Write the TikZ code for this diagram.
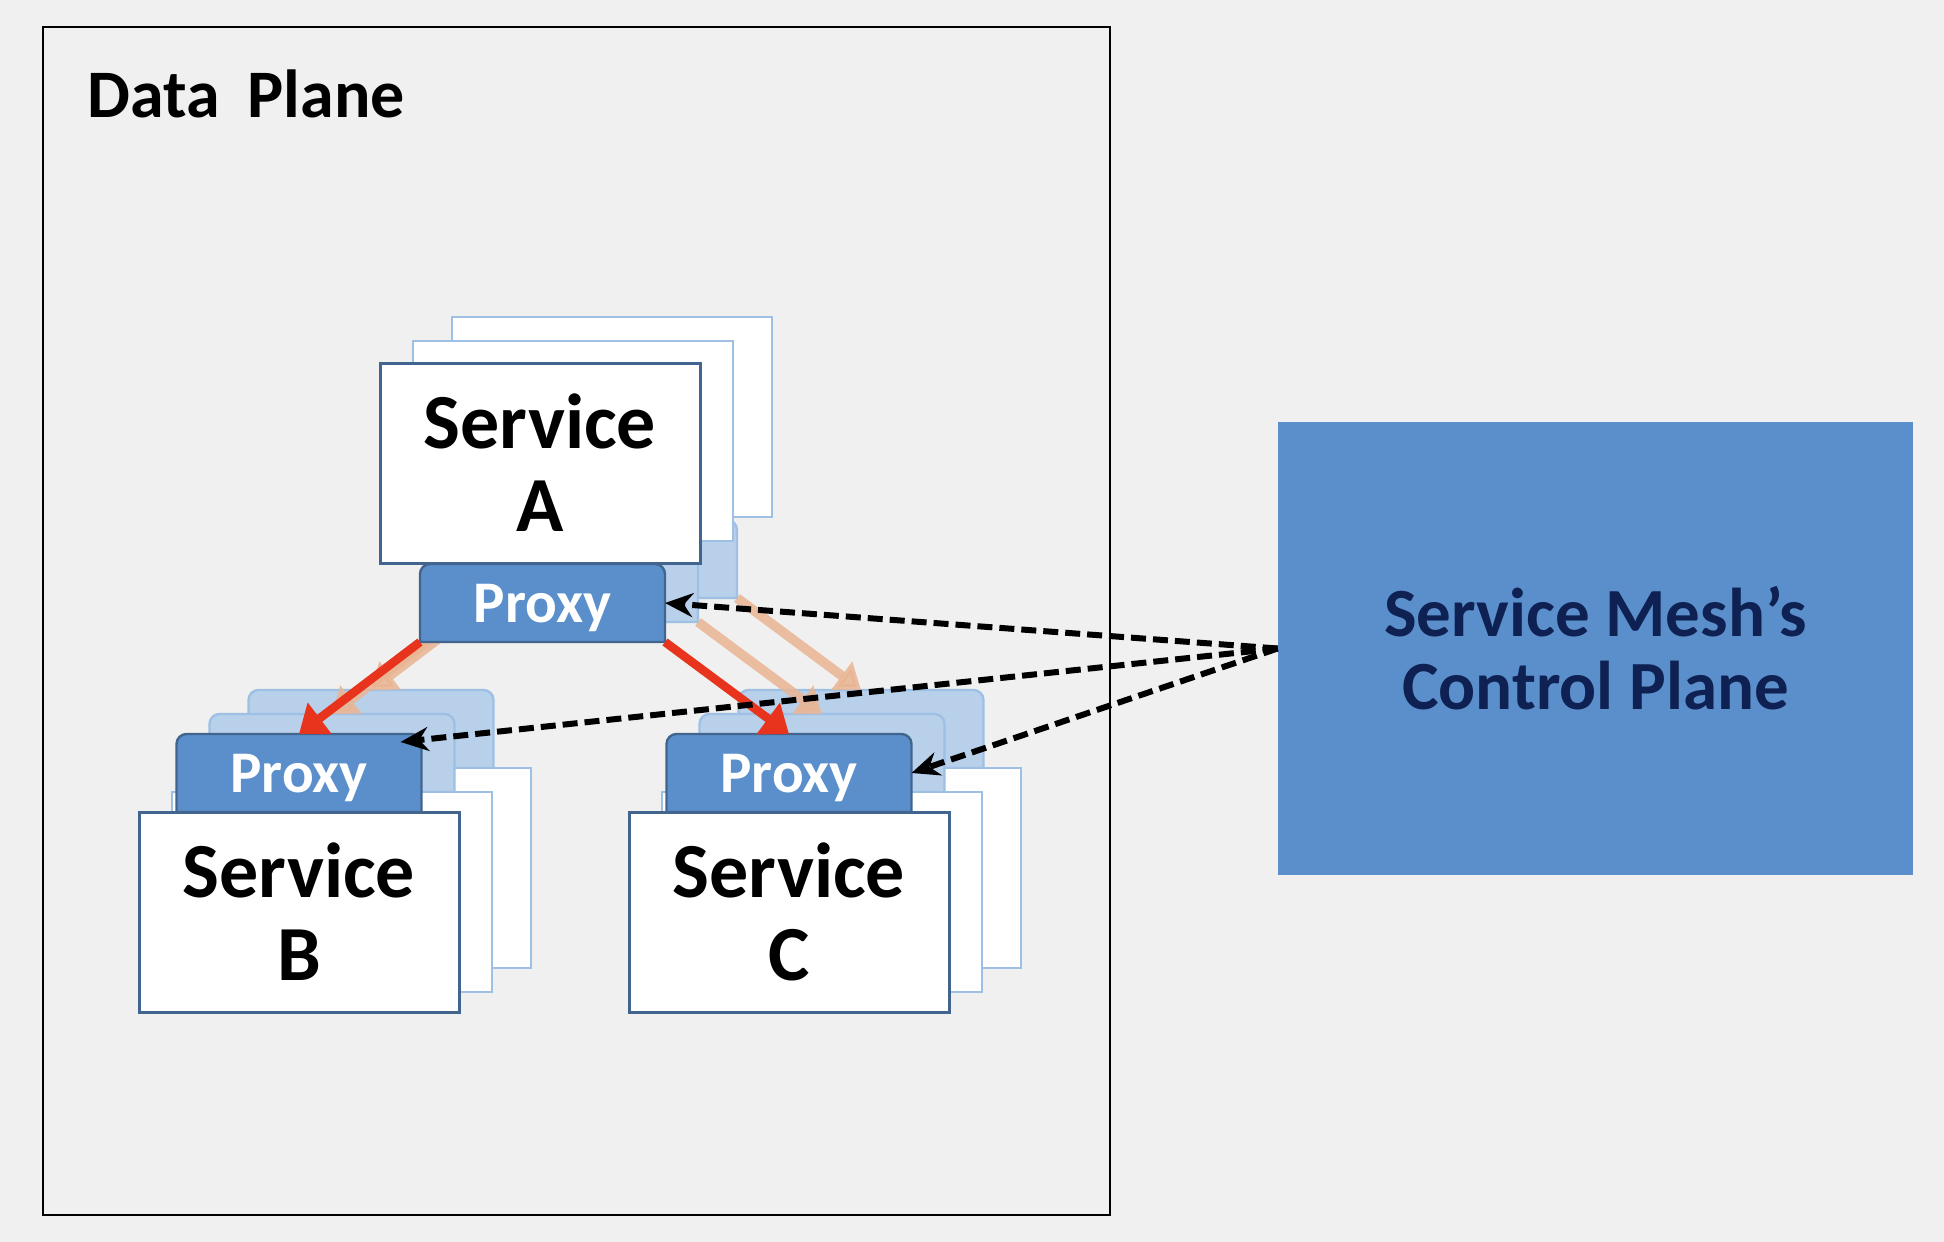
\documentclass[tikz,border=0pt]{standalone}
\usepackage{fontspec}
\setmainfont{Carlito}
\usetikzlibrary{arrows.meta,calc}

\definecolor{paneGray}{RGB}{240,240,240}
\definecolor{meshBlue}{RGB}{91,143,203}
\definecolor{edgeBlue}{RGB}{65,101,143}
\definecolor{ghostFill}{RGB}{184,208,234}
\definecolor{ghostEdge}{RGB}{157,192,228}
\definecolor{callRed}{RGB}{232,52,28}
\definecolor{echoPeach}{RGB}{233,181,148}
\definecolor{planeNavy}{RGB}{14,33,82}

\begin{document}
\begin{tikzpicture}[x=0.5pt,y=0.5pt,yscale=-1,
	svcfront/.style={draw=edgeBlue,line width=1.5pt,fill=white,minimum width=160pt,minimum height=100pt,inner sep=0pt,outer sep=0pt,align=center,font=\fontsize{39}{41.5}\selectfont\bfseries},
	svcghost/.style={draw=ghostEdge,line width=1.2pt,fill=white,minimum width=160pt,minimum height=100pt,inner sep=0pt,outer sep=0pt},
	pxfront/.style={draw=edgeBlue,line width=1.2pt,fill=meshBlue},
	pxghost/.style={draw=ghostEdge,line width=1.2pt,fill=ghostFill},
	pxlabel/.style={minimum width=122.5pt,minimum height=39pt,inner sep=0pt,outer sep=0pt,text depth=0pt,text=white,font=\fontsize{29.5}{32}\selectfont\bfseries},
	pxspot/.style={minimum width=122.5pt,minimum height=39pt,inner sep=0pt,outer sep=0pt},
	call/.style={draw=callRed,line width=4.3pt,-{Triangle[length=13pt,width=19pt]}},
	echo/.style={draw=echoPeach,line width=4.8pt,opacity=0.85,-{Triangle[length=12pt,width=17pt]}},
	ctrllink/.style={draw=black,line width=3pt,dash pattern=on 7.5pt off 3.5pt,-{Stealth[length=14pt,width=12pt]}}]

		% Background and the Data Plane frame
		\fill[paneGray] (0,0) rectangle (1944,1242);
		\draw[line width=1.4pt] (43,27) rectangle (1110,1215);
		\node[anchor=base west,inner sep=0pt,font=\fontsize{34}{40}\selectfont\bfseries] (dpTitle) at (87,117) {Data\hspace{14pt}Plane};

		% The control plane box
		\node[fill=meshBlue,minimum width=317.5pt,minimum height=226.5pt,inner sep=0pt,align=center,text=planeNavy,font=\fontsize{34.5}{36.5}\selectfont\bfseries] (ctrl) at (1595.5,648.5) {Service Mesh’s\\Control Plane};

		% Copies behind Service A
		\node[svcghost] (svcA3) at (612,417) {};
		\draw[pxghost] (492,598) [rounded corners=5pt] -- (492,520) -- (737,520) [sharp corners] -- (737,598) -- cycle;
		\node[pxspot] (pxA3) at (614.5,559) {};
		\node[svcghost] (svcA2) at (573,441) {};
		\draw[pxghost] (453,622) [rounded corners=5pt] -- (453,544) -- (698,544) [sharp corners] -- (698,622) -- cycle;
		\node[pxspot] (pxA2) at (575.5,583) {};

		% Copies behind Service B
		\draw[pxghost] (248.5,768) [rounded corners=5pt] -- (248.5,690) -- (493.5,690) [sharp corners] -- (493.5,768) -- cycle;
		\node[pxspot] (pxB3) at (371,729) {};
		\node[svcghost] (svcB3) at (371,868) {};
		\draw[pxghost] (209.5,792) [rounded corners=5pt] -- (209.5,714) -- (454.5,714) [sharp corners] -- (454.5,792) -- cycle;
		\node[pxspot] (pxB2) at (332,753) {};
		\node[svcghost] (svcB2) at (332,892) {};

		% Copies behind Service C
		\draw[pxghost] (738.5,768) [rounded corners=5pt] -- (738.5,690) -- (983.5,690) [sharp corners] -- (983.5,768) -- cycle;
		\node[pxspot] (pxC3) at (861,729) {};
		\node[svcghost] (svcC3) at (861,868) {};
		\draw[pxghost] (699.5,792) [rounded corners=5pt] -- (699.5,714) -- (944.5,714) [sharp corners] -- (944.5,792) -- cycle;
		\node[pxspot] (pxC2) at (822,753) {};
		\node[svcghost] (svcC2) at (822,892) {};

		% Faded calls between the copies
		\draw[echo] (pxA3.south west) -- (pxB3.north);
		\draw[echo] (pxA2.south west) -- (pxB2.north);
		\draw[echo] (pxA3.south east) -- (pxC3.north);
		\draw[echo] (pxA2.south east) -- (pxC2.north);

		% Service A with its proxy below
		\node[svcfront] (svcA) at (540,463) {Service\\A};
		\draw[pxfront] (420,642) [rounded corners=5pt] -- (420,564) -- (665,564) [sharp corners] -- (665,642) -- cycle;
		\node[pxlabel] (pxA) at (542.5,603) {Proxy};

		% Service B with its proxy on top
		\draw[pxfront] (176.5,812) [rounded corners=5pt] -- (176.5,734) -- (421.5,734) [sharp corners] -- (421.5,812) -- cycle;
		\node[pxlabel] (pxB) at (299,773) {Proxy};
		\node[svcfront] (svcB) at (299,912) {Service\\B};

		% Service C with its proxy on top
		\draw[pxfront] (666.5,812) [rounded corners=5pt] -- (666.5,734) -- (911.5,734) [sharp corners] -- (911.5,812) -- cycle;
		\node[pxlabel] (pxC) at (789,773) {Proxy};
		\node[svcfront] (svcC) at (789,912) {Service\\C};

		% Red calls from proxy A
		\draw[call] (pxA.south west) -- (pxB.north);
		\draw[call] (pxA.south east) -- (pxC.north);

		% Dashed links from the control plane to the proxies
		\draw[ctrllink] (ctrl.west) -- (pxA.east);
		\draw[ctrllink] (ctrl.west) -- ($(pxB.north east)+(-21,8)$);
		\draw[ctrllink] (ctrl.west) -- (pxC.east);
\end{tikzpicture}
\end{document}
